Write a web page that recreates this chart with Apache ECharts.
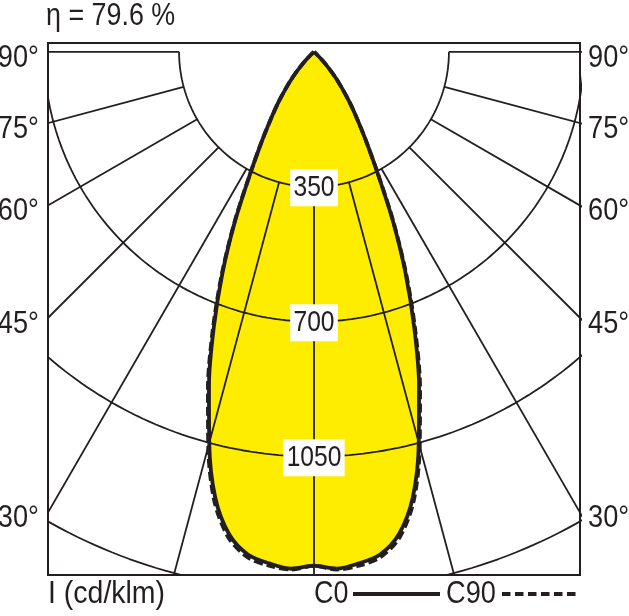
<!DOCTYPE html>
<html><head><meta charset="utf-8">
<script src="https://cdn.jsdelivr.net/npm/echarts@6/dist/echarts.min.js"></script>
<style>html,body{margin:0;padding:0;background:#fff}#c{width:629px;height:616px}</style>
</head><body><div id="c"></div>
<script>
// polar angles (deg from nadir) and intensities (cd/klm)
const angles = [0,2.5,5,7.5,10,12.5,15,17.5,20,22.5,25,27.5,30,32.5,35,37.5,40,42.5,45,47.5,50];
const c0  = [1333,1342,1332,1315,1270,1184,1050,906,760,620,485,362,276,212,164,121,86,52,28,10,0];
const c90 = [1333,1344,1338,1322,1279,1194,1060,915,768,626,489,364,277,212,164,121,86,52,28,10,0];
const ringValues = [350,700,1050,1400];
const ringLabels = [350,700,1050];
const spokeAngles = [-90,-75,-60,-45,-30,-15,0,15,30,45,60,75,90];
const degreeLabels = [90,75,60,45,30];
const seriesNames = ['C0','C90'];
const etaText = 'η = 79.6 %';
const unitText = 'I (cd/klm)';

const X_MAX = 690, Y_MIN = -1357, Y_MAX = 23;
const INNER = 350, OUTER = 2400;
const FAMILY = "'Liberation Sans', Arial, sans-serif";
const INK = '#231f20';
const YELLOW = '#ffed00';

const rad = d => d * Math.PI / 180;
const toXY = (deg, r) => [r * Math.sin(rad(deg)), -r * Math.cos(rad(deg))];

function curve(vals) {
  const pts = [];
  for (let i = angles.length - 1; i > 0; i--) pts.push(toXY(-angles[i], vals[i]));
  for (let i = 0; i < angles.length; i++) pts.push(toXY(angles[i], vals[i]));
  return pts;
}
function ring(r) {
  const pts = [];
  for (let a = -90; a <= 90; a += 1) pts.push(toXY(a, r));
  return pts;
}
function narrowText(x, y, text, align, size, scale, extra) {
  return {
    type: 'text', x: x, y: y, scaleX: scale, z2: 10,
    style: Object.assign({ text: text, x: 0, y: 0, font: size + 'px ' + FAMILY, fill: INK, align: align, verticalAlign: 'middle' }, extra || {})
  };
}

const gridLine = { color: INK, width: 1.8 };
const series = [];

// yellow fill
series.push({
  type: 'custom', name: 'fill', silent: true, z: 1,
  data: [[0, 0]],
  renderItem: function (params, api) {
    const pts = curve(c0).map(p => api.coord(p));
    return { type: 'polygon', shape: { points: pts, smooth: 0.3 }, style: { fill: YELLOW } };
  }
});

ringValues.forEach(r => series.push({
  type: 'line', name: 'ring' + r, data: ring(r), symbol: 'none',
  lineStyle: gridLine, silent: true, z: 2, clip: true
}));
spokeAngles.forEach(a => series.push({
  type: 'line', name: 'spoke' + a, data: [toXY(a, INNER), toXY(a, OUTER)], symbol: 'none',
  lineStyle: gridLine, silent: true, z: 2, clip: true
}));

series.push({
  type: 'line', name: seriesNames[1], data: curve(c90), symbol: 'none', smooth: 0.3, z: 4,
  itemStyle: { color: INK }, lineStyle: { color: INK, width: 3.8, type: [9, 4] }
});
series.push({
  type: 'line', name: seriesNames[0], data: curve(c0), symbol: 'none', smooth: 0.3, z: 5,
  itemStyle: { color: INK }, lineStyle: { color: INK, width: 3.8 }
});

// ring value labels (white boxes on the 0° axis)
series.push({
  type: 'custom', name: 'ringLabels', silent: true, z: 10, clip: false,
  data: ringLabels.map(v => [0, -v, v]),
  renderItem: function (params, api) {
    const p = api.coord([api.value(0), api.value(1)]);
    return narrowText(p[0], p[1] + 1, String(api.value(2)), 'center', 30, 0.82,
      { backgroundColor: '#fff', padding: [4, 4, 3, 4] });
  }
});
// degree labels on both sides of the frame
[-1, 1].forEach(side => series.push({
  type: 'custom', name: 'deg' + side, silent: true, z: 10, clip: false,
  data: degreeLabels.map(d => [side * X_MAX, -X_MAX / Math.tan(rad(d)), d]),
  renderItem: function (params, api) {
    const p = api.coord([api.value(0), api.value(1)]);
    return narrowText(p[0] + (side < 0 ? -9 : 8), p[1] + 6, api.value(2) + '°', side < 0 ? 'right' : 'left', 32, 0.85);
  }
}));

const chart = echarts.init(document.getElementById('c'), null, { renderer: 'canvas' });
chart.setOption({
  animation: false,
  backgroundColor: '#fff',
  grid: { left: 48, right: 49, top: 43, bottom: 41, show: true, borderColor: INK, borderWidth: 2, backgroundColor: 'transparent' },
  xAxis: { type: 'value', min: -X_MAX, max: X_MAX, show: false },
  yAxis: { type: 'value', min: Y_MIN, max: Y_MAX, show: false },
  graphic: [
    narrowText(46, 16, etaText, 'left', 32, 0.84),
    narrowText(48, 594, unitText, 'left', 32, 0.89),
    narrowText(314, 594, seriesNames[0], 'left', 32, 0.84),
    { type: 'line', shape: { x1: 353, y1: 594, x2: 440, y2: 594 }, style: { stroke: INK, lineWidth: 4 } },
    narrowText(446, 594, seriesNames[1], 'left', 32, 0.85),
    { type: 'line', shape: { x1: 502, y1: 594, x2: 578, y2: 594 }, style: { stroke: INK, lineWidth: 4, lineDash: [8.5, 4.5] } }
  ],
  series: series
});
</script></body></html>
